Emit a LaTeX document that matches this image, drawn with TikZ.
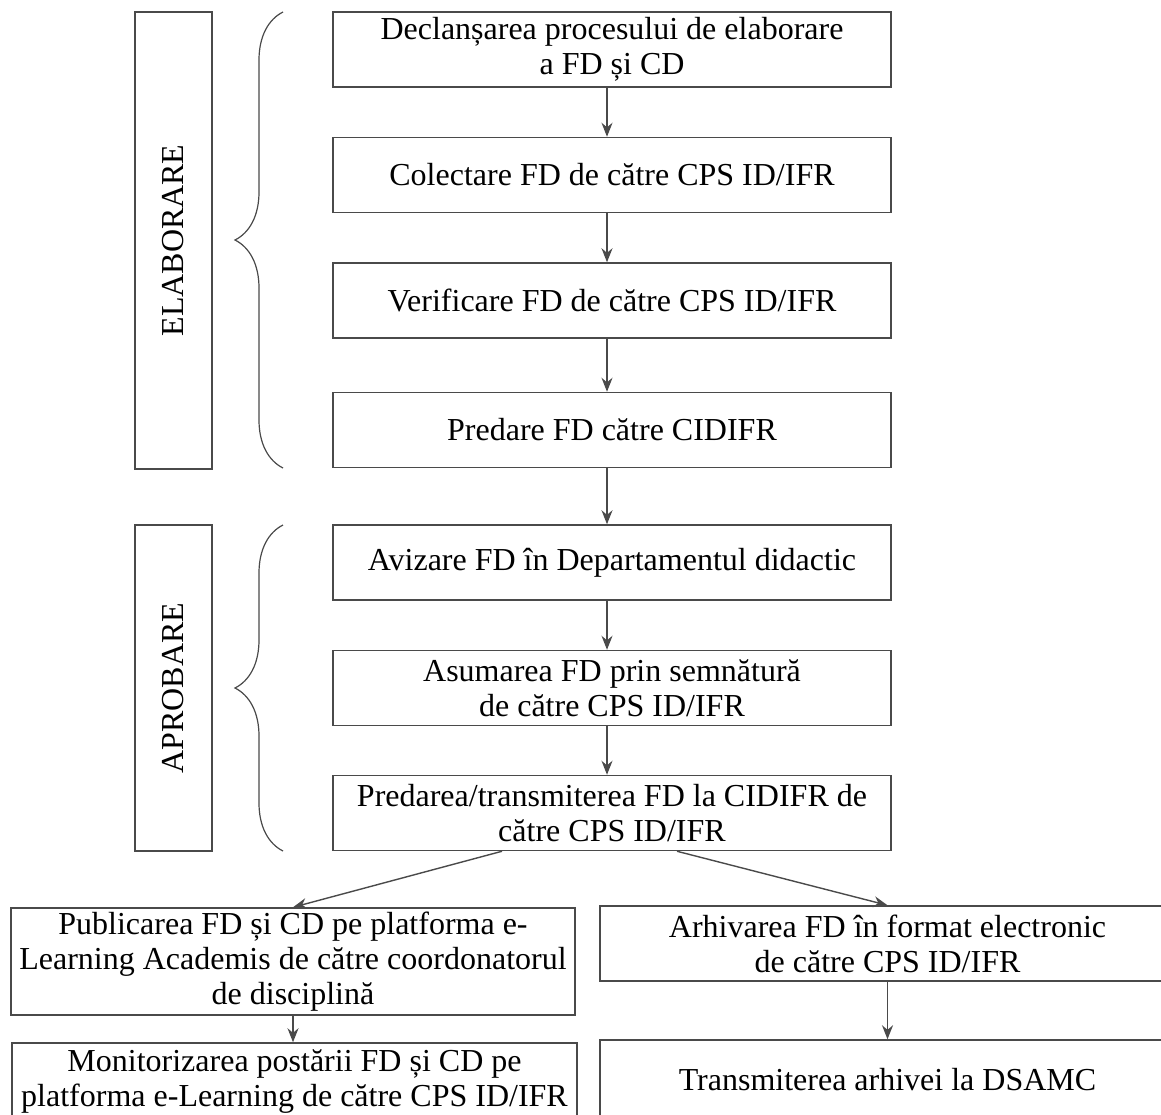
\documentclass[tikz,border=0pt]{standalone}
\usepackage{fontspec}
\setmainfont{Liberation Serif}
\usetikzlibrary{arrows.meta,decorations.pathreplacing}
\definecolor{edge}{HTML}{4A4A4A}
\begin{document}
\begin{tikzpicture}[x=0.5pt,y=-0.5pt,
  txt/.style={font=\fontsize{16pt}{17.5pt}\selectfont, text=black, align=center},
  box/.style={txt, draw=edge, line width=0.75pt, inner sep=0pt, minimum width=279pt, minimum height=37.5pt},
  phase/.style={txt, draw=edge, line width=0.75pt, inner sep=0pt, minimum height=38.5pt, rotate=90},
  flow/.style={draw=edge, line width=0.7pt, -{Stealth[length=7pt,width=5.5pt]}},
  brc/.style={draw=edge, line width=0.6pt, decorate, decoration={brace, amplitude=24pt}}]
\useasboundingbox (0,0) rectangle (1161,1114);

\node[phase, minimum width=228.5pt] (elab) at (173.5,240.5) {ELABORARE};
\node[phase, minimum width=163pt] (aprob) at (173.5,688) {APROBARE};
\draw[brc] (283,468) -- (283,12);
\draw[brc] (283,851) -- (283,525);

\node[box] (start) at (612,49.5) {Declanșarea procesului de elaborare\\a FD și CD};
\node[box] (collect) at (612,175) {Colectare FD de către CPS ID/IFR};
\node[box] (check) at (612,300.5) {Verificare FD de către CPS ID/IFR};
\node[box] (handin) at (612,430) {Predare FD către CIDIFR};
\node[box] (review) at (612,562.5) {Avizare FD în Departamentul didactic};
\node[box] (sign) at (612,688) {Asumarea FD prin semnătură\\de către CPS ID/IFR};
\node[box] (send) at (612,813) {Predarea/transmiterea FD la CIDIFR de\\către CPS ID/IFR};

\node[box, minimum width=282pt, minimum height=53.5pt] (publish) at (293,961.5)
  {Publicarea FD și CD pe platforma e-\\Learning Academis de către coordonatorul\\de disciplină};
\node[box, minimum width=282.5pt, minimum height=38.5pt] (monitor) at (294.5,1081.5)
  {Monitorizarea postării FD și CD pe\\platforma e-Learning de către CPS ID/IFR};
\node[box, minimum width=287.5pt] (archive) at (887.5,943.5)
  {Arhivarea FD în format electronic\\de către CPS ID/IFR};
\node[box, minimum width=287.5pt, minimum height=40pt] (transmit) at (887.5,1080)
  {Transmiterea arhivei la DSAMC};

\foreach \a/\b in {start/collect, collect/check, check/handin, handin/review, review/sign, sign/send}
  \draw[flow] ([xshift=-2.5pt]\a.south) -- ([xshift=-2.5pt]\b.north);
\draw[flow] ([xshift=-55pt]send.south) -- (publish.north);
\draw[flow] ([xshift=32.5pt]send.south) -- (archive.north);
\draw[flow] (publish.south) -- (publish.south |- monitor.north);
\draw[flow] (archive) -- (transmit);
\end{tikzpicture}
\end{document}
